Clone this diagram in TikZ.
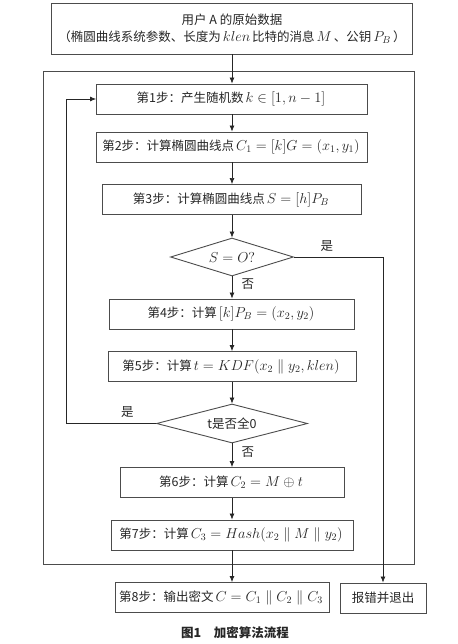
\documentclass[tikz,border=0pt]{standalone}
\usepackage{fontspec}
\setmainfont{Noto Sans CJK SC}
\usetikzlibrary{shapes.geometric,arrows.meta}
\newcommand{\mth}[1]{{\kern2pt\fontsize{14.5}{17}\selectfont$#1$\kern2pt}}
\begin{document}
\begin{tikzpicture}[
x=1pt, y=1pt,
node distance=55pt,
every node/.style={
font=\fontsize{12.5}{17}\selectfont,
text=black!85
},
stepbox/.style={
draw=black!70,
line width=0.9pt,
minimum height=30pt,
align=center,
inner sep=2pt
},
decision/.style={
draw=black!70,
line width=0.9pt,
diamond,
aspect=3,
inner sep=0pt,
minimum width=123pt,
minimum height=38pt
},
flow/.style={-{Latex[length=6pt,width=5pt]}, line width=0.7pt, black!85}
]
\useasboundingbox (0,0) rectangle (457,-644);
\node (input) [stepbox, minimum width=361pt, minimum height=51pt] at (232,-28.5) {用户 A 的原始数据\\（椭圆曲线系统参数、长度为\mth{klen}比特的消息\mth{M}、公钥\mth{P_B}）};
\node (step1) [stepbox, minimum width=271pt, below of=input, node distance=70.5pt] {第1步：产生随机数\mth{k\in[1,n-1]}};
\node (step2) [stepbox, minimum width=271pt, below of=step1, node distance=48pt] {第2步：计算椭圆曲线点\mth{C_1=[k]G=(x_1,y_1)}};
\node (step3) [stepbox, minimum width=259pt, below of=step2, node distance=52.5pt] {第3步：计算椭圆曲线点\mth{S=[h]P_B}};
\node (check1) [decision, below of=step3, node distance=57.5pt] {\mth{S=O?}};
\node (step4) [stepbox, minimum width=245pt, below of=check1, node distance=57pt] {第4步：计算\mth{[k]P_B=(x_2,y_2)}};
\node (step5) [stepbox, minimum width=248pt, below of=step4, node distance=52.5pt] {第5步：计算\mth{t=KDF(x_2\parallel y_2,klen)}};
\node (check2) [decision, minimum width=151pt, minimum height=39pt, below of=step5, node distance=57pt] {t是否全0};
\node (step6) [stepbox, minimum width=224pt, below of=check2, node distance=59pt] {第6步：计算\mth{C_2=M\oplus t}};
\node (step7) [stepbox, minimum width=242pt, below of=step6, node distance=52.5pt] {第7步：计算\mth{C_3=Hash(x_2\parallel M\parallel y_2)}};
\node (step8) [stepbox, minimum width=214pt, below of=step7, node distance=62.5pt, xshift=-10pt] {第8步：输出密文\mth{C=C_1\parallel C_2\parallel C_3}};
\node (quit) [stepbox, minimum width=86pt] at (383,-598) {报错并退出};
\node (caption) at (235,-633) {\bfseries 图1\quad 加密算法流程};
% outer frame
\draw[draw=black!70, line width=0.9pt] (43,-71) rectangle (414,-564);
\draw[flow] (input) -- (step1);
\draw[flow] (step1) -- (step2);
\draw[flow] (step2) -- (step3);
\draw[flow] (step3) -- (check1);
\draw[flow] (check1) -- node[right=6pt, pos=0.35] {否} (step4);
\draw[flow] (step4) -- (step5);
\draw[flow] (step5) -- (check2);
\draw[flow] (check2) -- node[right=6pt, pos=0.35] {否} (step6);
\draw[flow] (step6) -- (step7);
\draw[flow] (step7) -- (step7 |- step8.north);
\draw[flow] (check1.east) -- node[above=2pt, pos=0.37] {是} (check1.east -| quit) -- (quit);
\draw[flow] (check2.west) -- node[above=2pt, pos=0.32] {是} ++(-90,0) |- (step1);
\end{tikzpicture}
\end{document}
